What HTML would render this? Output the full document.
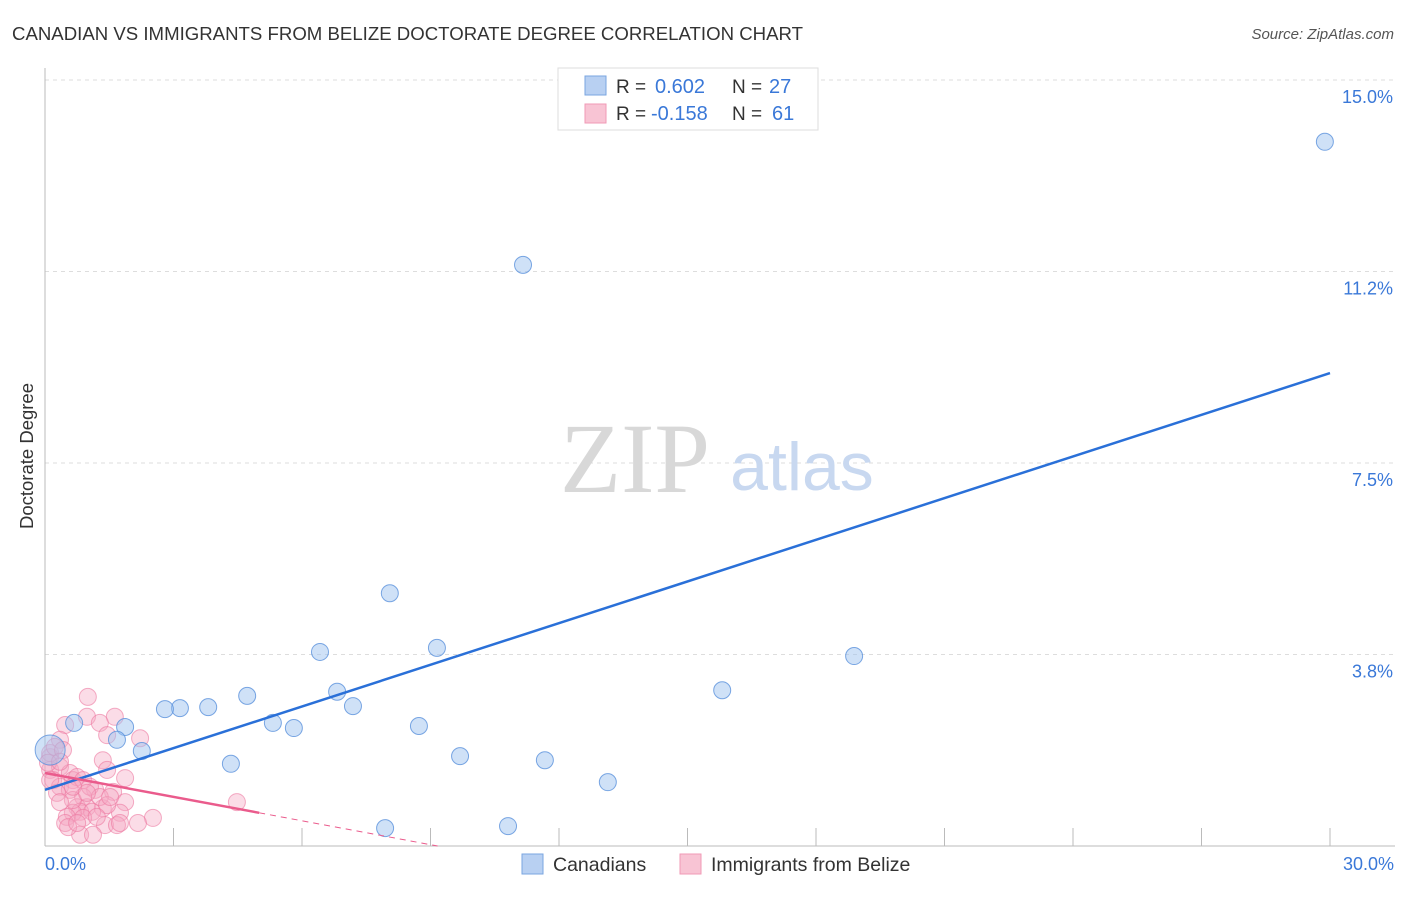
<!DOCTYPE html>
<html><head><meta charset="utf-8"><style>
body{margin:0;background:#fff;font-family:"Liberation Sans",sans-serif}
</style></head><body>
<svg id="c" width="1406" height="892" xmlns="http://www.w3.org/2000/svg" font-family="Liberation Sans, sans-serif">
<text x="12" y="40" font-size="18" fill="#333" textLength="791" lengthAdjust="spacingAndGlyphs">CANADIAN VS IMMIGRANTS FROM BELIZE DOCTORATE DEGREE CORRELATION CHART</text>
<text x="1394" y="39" font-size="15" fill="#555" font-style="italic" text-anchor="end">Source: ZipAtlas.com</text>
<text x="33" y="456" font-size="18.5" fill="#333" text-anchor="middle" transform="rotate(-90 33 456)">Doctorate Degree</text>
<g id="grid"></g>
<text x="635" y="492" font-size="100" fill="#d8d8d8" style="font-family:'Liberation Serif',serif" text-anchor="middle">ZIP</text>
<text x="802" y="490" font-size="68" fill="#c8d8f0" text-anchor="middle">atlas</text>
<g id="marks"></g>
<g>
<rect x="558" y="68" width="260" height="62" fill="#fff" stroke="#ddd"/>
<rect x="585" y="76" width="21" height="19" fill="#b8d0f2" stroke="#7aa6e0"/>
<rect x="585" y="104" width="21" height="19" fill="#f8c4d4" stroke="#f09ab6"/>
<text x="616" y="93" font-size="19" fill="#333">R = </text><text x="655" y="93" font-size="20" fill="#3a78d8">0.602</text>
<text x="732" y="93" font-size="19" fill="#333">N = </text><text x="769" y="93" font-size="20" fill="#3a78d8">27</text>
<text x="616" y="120" font-size="19" fill="#333">R = </text><text x="651" y="120" font-size="20" fill="#3a78d8">-0.158</text>
<text x="732" y="120" font-size="19" fill="#333">N = </text><text x="772" y="120" font-size="20" fill="#3a78d8">61</text>
</g>
<g>
<rect x="522" y="854" width="21" height="20" fill="#b8d0f2" stroke="#7aa6e0"/>
<text x="553" y="871" font-size="19.5" fill="#333">Canadians</text>
<rect x="680" y="854" width="21" height="20" fill="#f8c4d4" stroke="#f09ab6"/>
<text x="711" y="871" font-size="19.5" fill="#333">Immigrants from Belize</text>
</g>
</svg>
<script>
const yTicks=[3.8,7.5,11.2,15.0];
const yTickVals=[3.75,7.5,11.25,15.0];
const xTickLabels=["0.0%","30.0%"];
const blueX=[29.88,11.16,8.05,9.15,6.42,18.89,15.81,4.72,6.82,3.81,3.15,2.80,7.19,0.68,5.32,8.73,1.87,5.81,1.68,2.26,9.69,11.67,4.34,13.14,7.94,10.81,0.12];
const blueY=[13.79,11.38,4.95,3.88,3.80,3.72,3.05,2.94,3.02,2.72,2.70,2.68,2.74,2.41,2.41,2.35,2.33,2.31,2.08,1.86,1.76,1.68,1.61,1.25,0.35,0.39,1.88];
const pinkX=[1.00,0.98,1.63,0.47,1.28,1.45,2.22,0.35,0.12,1.35,1.45,1.87,0.12,0.35,0.58,0.65,0.19,0.35,0.58,1.17,1.59,0.28,0.89,1.87,4.48,0.75,0.98,1.35,0.82,0.65,1.10,1.75,0.51,0.89,2.52,0.47,1.40,1.68,2.17,0.82,1.12,0.12,0.07,0.23,0.42,0.75,0.89,1.05,1.28,0.65,0.35,1.45,0.54,1.75,0.65,0.98,1.52,0.12,0.75,1.21,0.35];
const pinkY=[2.92,2.53,2.53,2.37,2.41,2.17,2.11,2.08,1.74,1.68,1.49,1.33,1.49,1.55,1.43,1.29,1.29,1.16,1.10,1.10,1.06,1.04,0.96,0.86,0.86,0.76,0.76,0.74,0.67,0.65,0.67,0.65,0.57,0.55,0.55,0.45,0.41,0.41,0.45,0.22,0.22,1.82,1.63,1.94,1.88,1.35,1.29,1.16,0.96,0.90,0.86,0.80,0.37,0.45,1.16,1.04,0.96,1.29,0.45,0.57,1.65];
const blueLine=[1.10,9.26];
const pinkLine=[1.43,-0.156];
const NS="http://www.w3.org/2000/svg";
const xs=v=>45+v/30*1285;
const ys=v=>846-v/3.75*191.5;
function mk(t,a,p){const e=document.createElementNS(NS,t);for(const k in a)e.setAttribute(k,a[k]);p.appendChild(e);return e;}
const g=document.getElementById('grid'),m=document.getElementById('marks');
yTickVals.forEach((v,i)=>{
 const l=mk('line',{x1:45,x2:1395,y1:ys(v),y2:ys(v),stroke:'#ddd','stroke-dasharray':'4,4'},g);
 
 
 const t=mk('text',{x:1393,y:ys(v)+23,'font-size':18,fill:'#3a78d8','text-anchor':'end'},g);
 t.textContent=yTicks[i].toFixed(1)+'%';
 
 
});
mk('line',{x1:45,x2:45,y1:68,y2:846,stroke:'#bbb'},g);
mk('line',{x1:45,x2:1395,y1:846,y2:846,stroke:'#bbb'},g);
for(let i=1;i<=10;i++){const l=mk('line',{x1:xs(i*3),x2:xs(i*3),y1:828,y2:846,stroke:'#bbb'},g);
 
 }
[[0,45,'start'],[30,1394,'end']].forEach((d,i)=>{const t=mk('text',{x:d[1],y:870,'font-size':18,fill:'#3a78d8','text-anchor':d[2]},g);t.textContent=xTickLabels[i];
 
 });
pinkX.forEach((x,i)=>{const c=mk('circle',{cx:xs(x),cy:ys(pinkY[i]),r:8.5,fill:'rgba(246,168,196,0.4)',stroke:'rgba(236,120,160,0.6)','stroke-width':1},m);
 
 });
blueX.forEach((x,i)=>{const c=mk('circle',{cx:xs(x),cy:ys(blueY[i]),r:i==26?15:8.5,fill:'rgba(160,196,240,0.5)',stroke:'rgba(90,145,220,0.8)','stroke-width':1},m);
 
 });
const bl=mk('line',{x1:xs(0),y1:ys(blueLine[0]),x2:xs(30),y2:ys(blueLine[1]),stroke:'#2a70d8','stroke-width':2.5},m);


const pe=5.0,pz=-pinkLine[0]/pinkLine[1];
const pl=mk('line',{x1:xs(0),y1:ys(pinkLine[0]),x2:xs(pe),y2:ys(pinkLine[0]+pinkLine[1]*pe),stroke:'#ea5b8c','stroke-width':2.5},m);


const pd=mk('line',{x1:xs(pe),y1:ys(pinkLine[0]+pinkLine[1]*pe),x2:xs(pz),y2:ys(0),stroke:'#ea5b8c','stroke-width':1,'stroke-dasharray':'6,5'},m);


</script>
</body></html>
